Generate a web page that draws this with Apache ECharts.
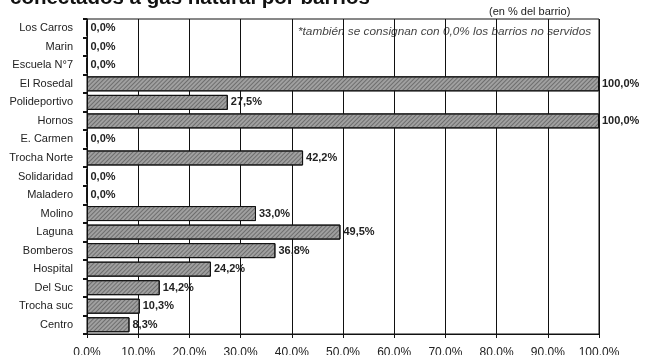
<!DOCTYPE html>
<html>
<head>
<meta charset="utf-8">
<script src="https://cdn.jsdelivr.net/npm/echarts@6/dist/echarts.min.js"></script>
<style>html,body{margin:0;padding:0;background:#fff}#c{width:656px;height:355px}</style>
</head>
<body>
<div id="c"></div>
<script>
var categories = ["Los Carros","Marin","Escuela N°7","El Rosedal","Polideportivo","Hornos","E. Carmen","Trocha Norte","Solidaridad","Maladero","Molino","Laguna","Bomberos","Hospital","Del Suc","Trocha suc","Centro"];
var values = [0.0,0.0,0.0,100.0,27.5,100.0,0.0,42.2,0.0,0.0,33.0,49.5,36.8,24.2,14.2,10.3,8.3];
var xTicks = [0,10,20,30,40,50,60,70,80,90,100];
var titleText = "conectados a gas natural por barrios";
var noteText = "*también se consignan con 0,0% los barrios no servidos";
var unitText = "(en % del barrio)";

function fmt(v){ return v.toFixed(1).replace('.', ',') + '%'; }

var chart = echarts.init(document.getElementById('c'));
chart.setOption({
  animation: false,
  backgroundColor: '#fff',
  textStyle: { fontFamily: 'Liberation Sans, Arial, sans-serif' },
  grid: { left: 87, right: 57, top: 19, bottom: 21, show: true, borderColor: '#111', borderWidth: 1, containLabel: false, outerBoundsMode: 'none' },
  xAxis: {
    type: 'value', min: xTicks[0], max: xTicks[xTicks.length - 1], interval: xTicks[1] - xTicks[0],
    axisLine: { show: true, lineStyle: { color: '#111', width: 1 } },
    axisTick: { show: true, length: 4, lineStyle: { color: '#111' } },
    splitLine: { show: true, lineStyle: { color: '#111', width: 1 } },
    axisLabel: { margin: 13, color: '#222', fontSize: 12, formatter: function(v){ return fmt(v); } }
  },
  yAxis: {
    type: 'category', data: categories, inverse: true,
    axisLine: { show: true, lineStyle: { color: '#111', width: 1 } },
    axisTick: { show: true, length: 4, lineStyle: { color: '#111', width: 2 } },
    splitLine: { show: false },
    axisLabel: { margin: 14, color: '#222', fontSize: 11 }
  },
  series: [{
    type: 'bar', data: values, barWidth: 15,
    itemStyle: {
      color: '#a0a0a0', borderColor: '#111', borderWidth: 1,
      decal: { symbol: 'rect', dashArrayX: [1, 0], dashArrayY: [1, 2], rotation: -Math.PI / 4, color: 'rgba(60,60,60,0.5)', symbolSize: 1 }
    },
    label: {
      show: true, position: 'right', distance: 3, color: '#222', fontSize: 11,
      formatter: function(p){ return fmt(p.value); },
      fontWeight: 'bold'
    }
  }],
  graphic: [
    { type: 'text', left: 10, top: -12, style: { text: titleText, fontSize: 20.5, fontWeight: 'bold', fill: '#111', fontFamily: 'Liberation Sans, Arial, sans-serif' } },
    { type: 'text', left: 489, top: 6, style: { text: unitText, fontSize: 11, fill: '#222', fontFamily: 'Liberation Sans, Arial, sans-serif' } },
    { type: 'text', left: 298, top: 26, style: { text: noteText, fontSize: 11.8, fontStyle: 'italic', fill: '#444', fontFamily: 'Liberation Sans, Arial, sans-serif' } }
  ]
});
</script>
</body>
</html>
